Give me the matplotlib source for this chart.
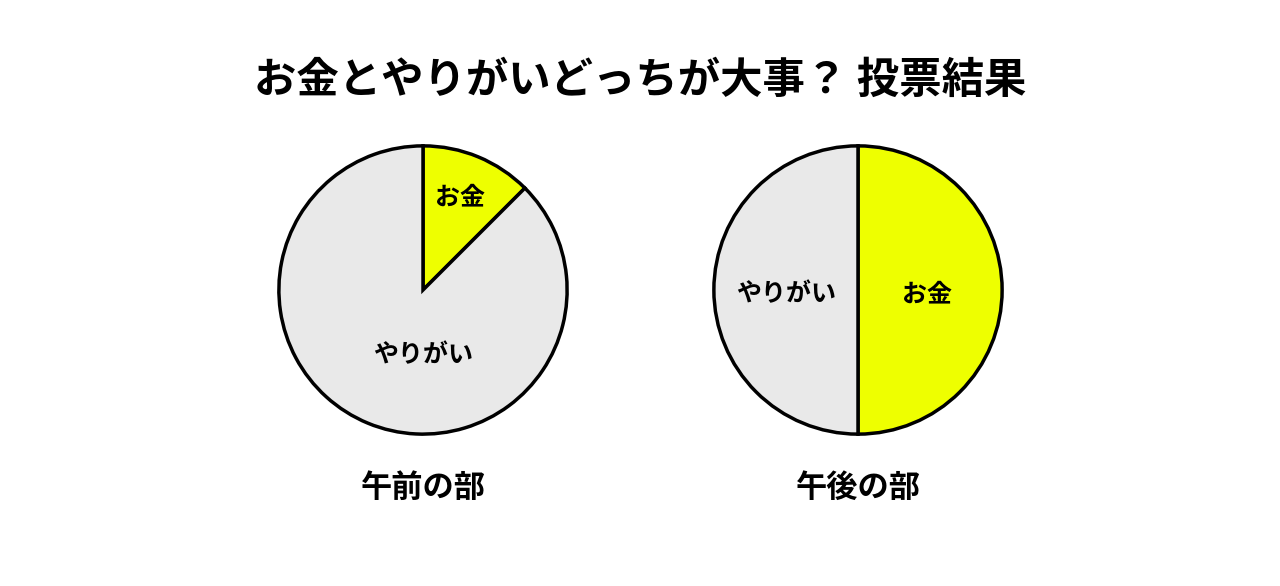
import matplotlib.pyplot as plt

plt.rcParams['font.family'] = ['Noto Sans CJK JP', 'DejaVu Sans']

title = 'お金とやりがいどっちが大事？ 投票結果'
sessions = ['午前の部', '午後の部']
labels = ['お金', 'やりがい']
morning = [12.5, 87.5]
afternoon = [50, 50]
colors = ['#EEFF00', '#E9E9E9']

W, H = 1280, 586
fig = plt.figure(figsize=(W / 100, H / 100), dpi=100)
fig.text(0.5, 1 - 81 / H, title, ha='center', va='center', fontsize=30.5, fontweight='bold')

r = 147
centers = [(423, 290), (858, 290)]
# label spots (fraction of radius) for each slice
label_pos = [[(0.26, 0.64), (0.0, -0.45)], [(0.48, -0.03), (-0.5, -0.03)]]

for (cx, cy), vals, name, pos in zip(centers, [morning, afternoon], sessions, label_pos):
    ax = fig.add_axes([(cx - r) / W, (H - cy - r) / H, 2 * r / W, 2 * r / H])
    ax.pie(vals, colors=colors, startangle=90, counterclock=False,
           wedgeprops=dict(edgecolor='black', linewidth=2.5))
    ax.set_xlim(-1.02, 1.02)
    ax.set_ylim(-1.02, 1.02)
    for lab, (x, y) in zip(labels, pos):
        ax.text(x, y, lab, ha='center', va='center', fontsize=18, fontweight='bold')
    fig.text(cx / W, 1 - 488 / H, name, ha='center', va='center', fontsize=22.5, fontweight='bold')

fig.savefig('out.png', dpi=100)
